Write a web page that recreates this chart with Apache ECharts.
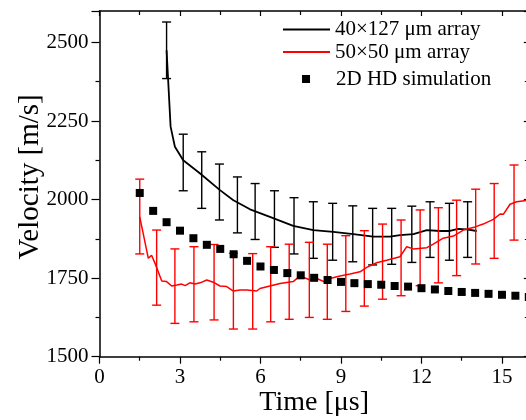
<!DOCTYPE html>
<html>
<head>
<meta charset="utf-8">
<script src="https://cdn.jsdelivr.net/npm/echarts@6/dist/echarts.min.js"></script>
<style>html,body{margin:0;padding:0;background:#fff}#c{width:526px;height:420px}</style>
</head>
<body>
<div id="c"></div>
<script>
// ---- data ----
const blackName = '40×127 μm array';
const redName = '50×50 μm array';
const simName = '2D HD simulation';

const blackT = [2.5,2.65,2.81,3.12,3.75,4.49,4.99,5.61,6.35,7.22,7.97,8.71,9.46,10.2,10.83,11.2,11.7,12.2,12.69,13.06,13.37,13.69,14.06];
const blackV = [2475,2232,2168,2125,2083,2030,1998,1969,1945,1916,1903,1897,1890,1882,1882,1887,1890,1903,1900,1900,1907,1905,1900];

const blackErrT = [2.5,3.12,3.81,4.47,5.14,5.8,6.52,7.25,7.97,8.69,9.44,10.18,10.89,11.64,12.32,13.04,13.72];
const blackErrLow = [2385,2028,1972,1935,1894,1873,1848,1827,1813,1807,1802,1792,1794,1800,1816,1807,1816];
const blackErrHigh = [2565,2208,2152,2113,2072,2051,2028,2006,1993,1988,1980,1972,1972,1979,1993,1988,1993];

const redT = [1.5,1.82,1.94,2.07,2.32,2.5,2.69,2.88,3.06,3.19,3.37,3.56,3.75,4.0,4.24,4.49,4.74,4.99,5.24,5.49,5.86,5.98,6.35,6.73,7.22,7.47,7.85,8.1,8.47,8.59,8.96,9.34,9.71,9.96,10.33,10.7,11.2,11.45,11.7,12.2,12.44,12.81,13.19,13.56,14.0,14.3,14.68,14.93,15.05,15.3,15.55,15.9];
const redV = [1945,1813,1823,1797,1741,1739,1725,1728,1731,1726,1735,1731,1735,1744,1737,1725,1723,1709,1712,1712,1709,1717,1725,1733,1739,1757,1744,1749,1735,1749,1757,1763,1770,1784,1799,1807,1818,1850,1843,1847,1858,1877,1884,1903,1913,1922,1937,1954,1953,1985,1993,1997];

const redErrT = [1.5,2.13,2.81,3.52,4.27,4.99,5.71,6.38,7.07,7.82,8.49,9.18,9.87,10.55,11.24,11.95,12.63,13.31,14.02,14.71,15.45];
const redErrLow = [1827,1664,1606,1611,1617,1588,1588,1611,1619,1625,1619,1644,1661,1683,1694,1726,1735,1758,1795,1813,1871];
const redErrHigh = [2065,1903,1843,1850,1857,1829,1828,1850,1858,1864,1858,1885,1901,1922,1935,1967,1974,1998,2033,2051,2110];

const simT = [1.5,2,2.5,3,3.5,4,4.5,5,5.5,6,6.5,7,7.5,8,8.5,9,9.5,10,10.5,11,11.5,12,12.5,13,13.5,14,14.5,15,15.5,16];
const simV = [2021,1964,1928,1901,1877,1856,1843,1826,1805,1787,1776,1766,1759,1751,1744,1738,1734,1731,1729,1725,1723,1718,1714,1709,1706,1703,1700,1697,1694,1690];

const xTicks = {min: 0, max: 16, interval: 3};
const yTicks = {min: 1500, max: 2600, interval: 250};

// ---- chart ----
const FONT = "'Liberation Serif', 'Times New Roman', serif";
const zip = (a, b) => a.map((v, i) => [v, b[i]]);
const zip3 = (a, b, c) => a.map((v, i) => [v, b[i], c[i]]);

function errRender(color) {
  return function (params, api) {
    const t = api.value(0);
    const lo = api.coord([t, api.value(1)]);
    const hi = api.coord([t, api.value(2)]);
    const w = 4.5;
    const style = {stroke: color, lineWidth: 1.4, fill: null};
    return {
      type: 'group',
      children: [
        {type: 'line', shape: {x1: lo[0], y1: lo[1], x2: hi[0], y2: hi[1]}, style},
        {type: 'line', shape: {x1: lo[0] - w, y1: lo[1], x2: lo[0] + w, y2: lo[1]}, style},
        {type: 'line', shape: {x1: hi[0] - w, y1: hi[1], x2: hi[0] + w, y2: hi[1]}, style}
      ]
    };
  };
}

const plain = v => String(v);
const axisLineStyle = {color: '#000', width: 1.5};
const chart = echarts.init(document.getElementById('c'), null, {renderer: 'canvas'});
chart.setOption({
  backgroundColor: '#fff',
  animation: false,
  textStyle: {fontFamily: FONT, color: '#000'},
  grid: {left: 99.5, right: -2.8, top: 11, bottom: 63.3, containLabel: false, outerBoundsMode: 'none'},
  xAxis: [{
    type: 'value', position: 'bottom', min: xTicks.min, max: xTicks.max, interval: xTicks.interval,
    axisLine: {show: true, onZero: false, lineStyle: axisLineStyle},
    axisTick: {show: true, inside: false, length: 7, lineStyle: {color: '#000', width: 1.2}},
    minorTick: {show: true, splitNumber: 2, length: 4, lineStyle: {color: '#000', width: 1.2}},
    axisLabel: {fontSize: 21, color: '#000', fontFamily: FONT, margin: 10, showMaxLabel: false, formatter: plain},
    splitLine: {show: false},
    name: 'Time [μs]', nameLocation: 'middle', nameGap: 32, nameMoveOverlap: false,
    nameTextStyle: {fontSize: 28, fontFamily: FONT, color: '#000'}
  }, {
    type: 'value', position: 'top', min: xTicks.min, max: xTicks.max, interval: xTicks.interval,
    axisLine: {show: true, onZero: false, lineStyle: axisLineStyle},
    axisTick: {show: true, inside: true, length: 5, lineStyle: {color: '#000', width: 1.2}},
    minorTick: {show: true, splitNumber: 2, length: 4, lineStyle: {color: '#000', width: 1.2}},
    axisLabel: {show: false}, splitLine: {show: false}
  }],
  yAxis: [{
    type: 'value', position: 'left', min: yTicks.min, max: yTicks.max, interval: yTicks.interval,
    axisLine: {show: true, onZero: false, lineStyle: axisLineStyle},
    axisTick: {show: true, inside: false, length: 8, lineStyle: {color: '#000', width: 1.2}},
    minorTick: {show: true, splitNumber: 2, length: 4, lineStyle: {color: '#000', width: 1.2}},
    axisLabel: {fontSize: 21, color: '#000', fontFamily: FONT, margin: 11, showMaxLabel: false, formatter: plain},
    splitLine: {show: false},
    name: 'Velocity [m/s]', nameLocation: 'middle', nameGap: 55, nameMoveOverlap: false,
    nameTextStyle: {fontSize: 29, fontFamily: FONT, color: '#000', padding: [0, 0, 0, 14]}
  }, {
    type: 'value', position: 'right', min: yTicks.min, max: yTicks.max, interval: yTicks.interval,
    axisLine: {show: true, onZero: false, lineStyle: axisLineStyle},
    axisTick: {show: true, inside: true, length: 5, lineStyle: {color: '#000', width: 1.2}},
    minorTick: {show: true, splitNumber: 2, length: 4, lineStyle: {color: '#000', width: 1.2}},
    axisLabel: {show: false}, splitLine: {show: false}
  }],
  legend: [{
    data: [blackName], left: 283, top: 19, icon: 'rect', itemWidth: 47, itemHeight: 2,
    textStyle: {fontSize: 21, fontFamily: FONT, color: '#000'}, padding: 0
  }, {
    data: [redName], left: 283, top: 41.5, icon: 'rect', itemWidth: 47, itemHeight: 2,
    textStyle: {fontSize: 21, fontFamily: FONT, color: '#000'}, padding: 0
  }, {
    data: [simName], left: 302, top: 68.5, icon: 'rect', itemWidth: 8, itemHeight: 8,
    textStyle: {fontSize: 21, fontFamily: FONT, color: '#000', padding: [0, 0, 0, 21]}, padding: 0
  }],
  series: [{
    name: blackName, type: 'line', data: zip(blackT, blackV), showSymbol: false, symbol: 'none',
    lineStyle: {color: '#000', width: 1.8}, itemStyle: {color: '#000'}, z: 2
  }, {
    name: blackName + ' err', type: 'custom', data: zip3(blackErrT, blackErrLow, blackErrHigh),
    renderItem: errRender('#000'), encode: {x: 0, y: [1, 2]}, z: 2
  }, {
    name: redName, type: 'line', data: zip(redT, redV), showSymbol: false, symbol: 'none',
    lineStyle: {color: '#ff0000', width: 1.5}, itemStyle: {color: '#ff0000'}, z: 3
  }, {
    name: redName + ' err', type: 'custom', data: zip3(redErrT, redErrLow, redErrHigh),
    renderItem: errRender('#ff0000'), encode: {x: 0, y: [1, 2]}, z: 3
  }, {
    name: simName, type: 'scatter', data: zip(simT, simV), symbol: 'rect', symbolSize: 8,
    itemStyle: {color: '#000', opacity: 1}, z: 4
  }]
});
</script>
</body>
</html>
